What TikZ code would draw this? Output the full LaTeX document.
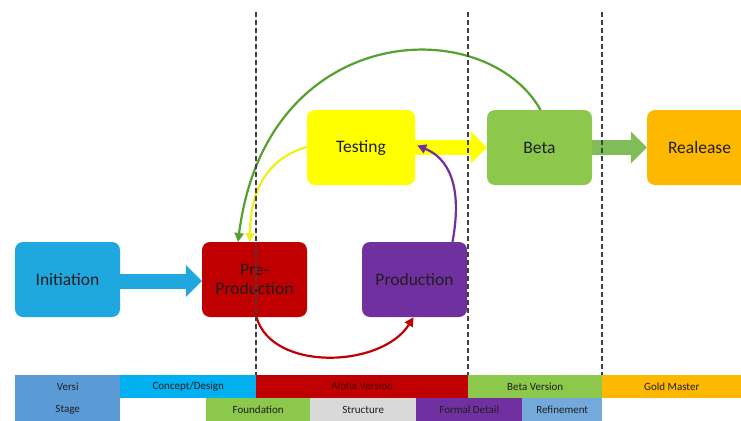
\documentclass[tikz,border=0pt]{standalone}
\usepackage{fontspec}
\setmainfont{Carlito}
\usetikzlibrary{arrows.meta}
\definecolor{cInit}{HTML}{1FA8E0}
\definecolor{cPre}{HTML}{C00000}
\definecolor{cTest}{HTML}{FFFF00}
\definecolor{cProd}{HTML}{7030A0}
\definecolor{cBeta}{HTML}{8CC84B}
\definecolor{cRel}{HTML}{FFB800}
\definecolor{cCurveG}{HTML}{56A02E}
\definecolor{cCurveY}{HTML}{F2EE1A}
\definecolor{cBlue}{HTML}{5B9BD5}
\definecolor{cCyan}{HTML}{00B0F0}
\definecolor{cGray}{HTML}{D9D9D9}
\definecolor{cTxt}{HTML}{1E1E1E}
\definecolor{cArrG}{HTML}{80BC58}
\tikzset{
  stagebox/.style={rounded corners=8pt, minimum width=105pt, minimum height=75pt,
    inner sep=0pt, font=\fontsize{17.5}{19}\selectfont, text=cTxt, align=center},
  blockarrow/.style={line width=15pt, -{Triangle[length=16pt,width=31pt]}},
  looparrow/.style={line width=2.2pt, -{Triangle[length=9pt,width=9pt]}},
  cell/.style={anchor=north west, inner sep=0pt, minimum height=23pt,
    font=\fontsize{11}{12}\selectfont, text=cTxt},
  divider/.style={dashed, dash pattern=on 5pt off 3pt, line width=1.1pt, black!75}
}
\begin{document}
\begin{tikzpicture}[x=1pt,y=-1pt]
\useasboundingbox[fill=white] (0,0) rectangle (741,420);

% stage boxes
\node[stagebox, fill=cInit] (init) at (67.5,279.5) {Initiation};
\node[stagebox, fill=cPre] (pre) at (254.5,279.5) {Pre-\\Production};
\node[stagebox, fill=cProd] (prod) at (414.5,279.5) {Production};
\node[stagebox, fill=cTest, minimum width=108pt] (test) at (361,147.5) {Testing};
\node[stagebox, fill=cBeta] (beta) at (539.5,147.5) {Beta};
\node[stagebox, fill=cRel] (rel) at (699.5,147.5) {Realease};

% block arrows
\draw[blockarrow, cInit] ([yshift=-1.5pt]init.east) -- ([yshift=-1.5pt]pre.west);
\draw[blockarrow, cTest] (test.east) -- (beta.west);
\draw[blockarrow, cArrG] (beta.east) -- (rel.west);

% loop arrows
\coordinate (preTopG) at (238,242);
\coordinate (preTopY) at (250,242);
\draw[looparrow, cCurveY] ([yshift=0.5pt]test.west) .. controls (268,158) and (250,190) .. (preTopY);
\draw[looparrow, cCurveG] ([xshift=1pt]beta.north) .. controls (485,12) and (266,20) .. (preTopG);
\draw[looparrow, cProd] ([xshift=38pt]prod.north) .. controls (463,185) and (448,158) .. ([xshift=2pt,yshift=2pt]test.east);
\draw[looparrow, cPre] ([xshift=2pt]pre.south) .. controls (272,372) and (382,368) .. ([xshift=-1pt]prod.south);

% table row 1
\node[cell, fill=cBlue, minimum width=105pt] (v1) at (15,375) {Versi};
\node[cell, fill=cCyan, minimum width=136pt] (v2) at (120,375) {Concept/Design};
\node[cell, fill=cPre, minimum width=212pt, text=black!60!cPre] (v3) at (256,375) {Alpha Version};
\node[cell, fill=cBeta, minimum width=134pt] (v4) at (468,375) {Beta Version};
\node[cell, fill=cRel, minimum width=139pt] (v5) at (602,375) {Gold Master};
% table row 2
\node[cell, fill=cBlue, minimum width=105pt] (s1) at (15,398) {Stage};
\node[cell, fill=cBeta, minimum width=104pt] (s2) at (206,398) {Foundation};
\node[cell, fill=cGray, minimum width=106pt] (s3) at (310,398) {Structure};
\node[cell, fill=cProd, minimum width=106pt] (s4) at (416,398) {Formal Detail};
\node[cell, fill=cBlue!85!white, minimum width=80pt] (s5) at (522,398) {Refinement};

% dashed phase dividers
\foreach \x/\n in {256/a,468/b,602/c}{
  \coordinate (top\n) at (\x,12);
  \coordinate (bot\n) at (\x,375);
  \draw[divider] (top\n) -- (bot\n);
}
\end{tikzpicture}
\end{document}
